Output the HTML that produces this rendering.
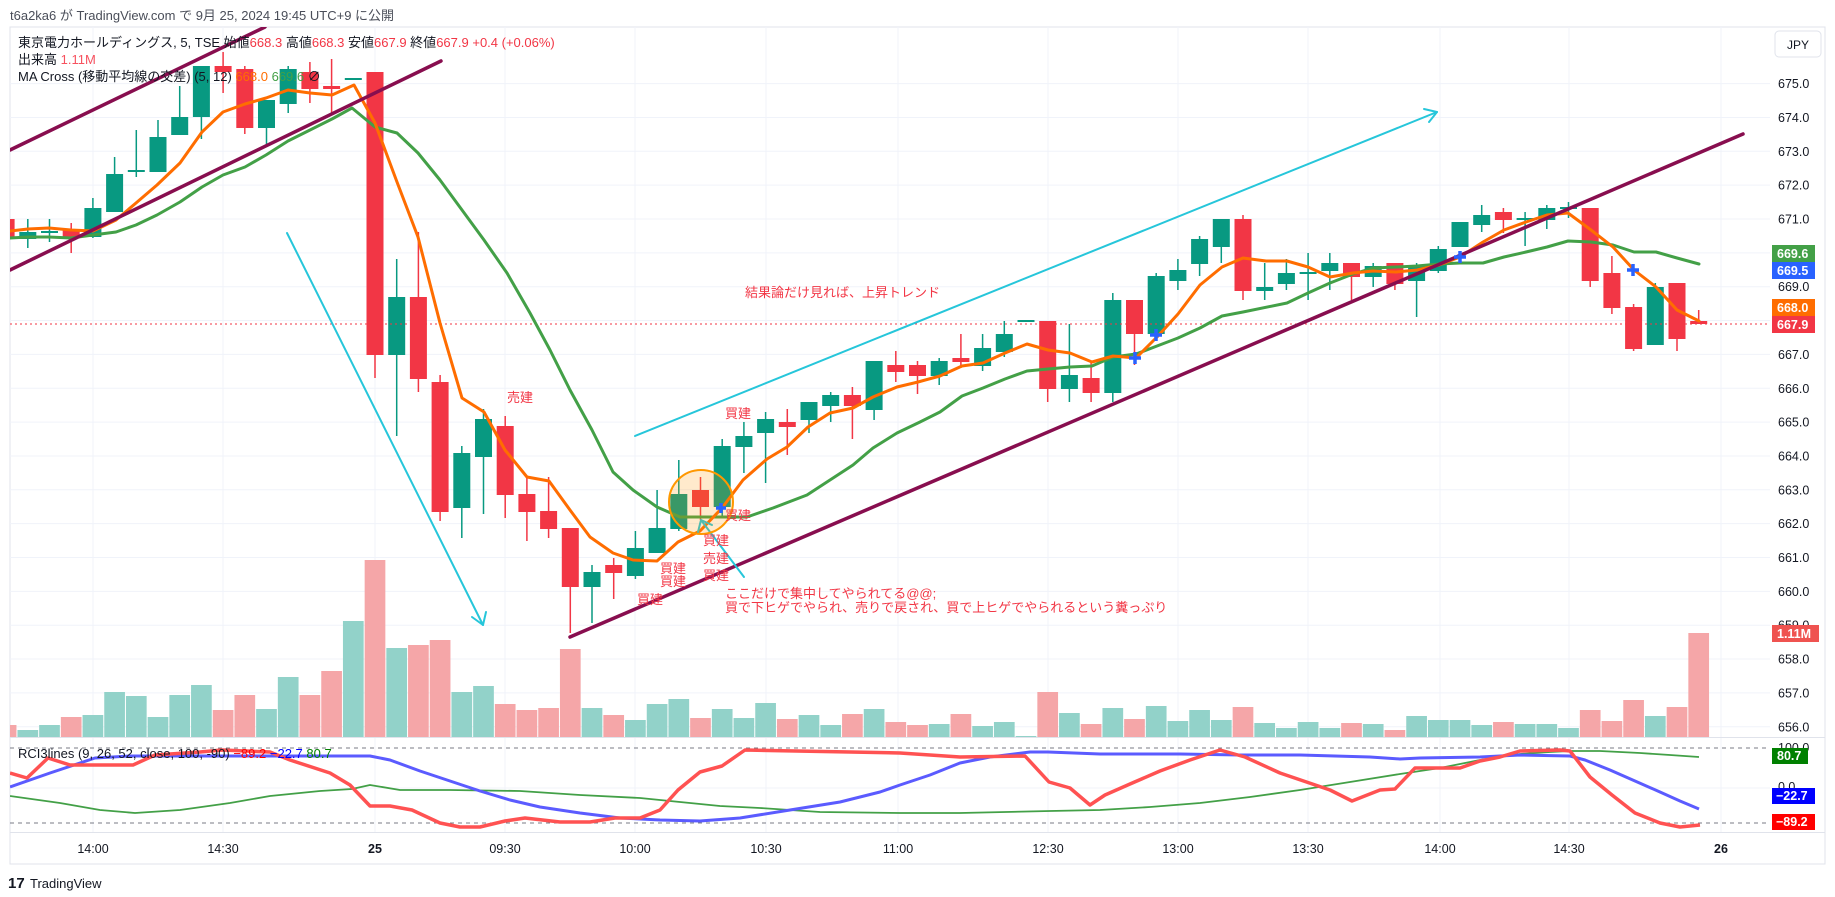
<!DOCTYPE html>
<html><head><meta charset="utf-8"><style>
html,body{margin:0;padding:0;background:#fff;}
svg{display:block;font-family:"Liberation Sans","Noto Sans CJK JP",sans-serif;}
</style></head><body>
<svg id="s" width="1835" height="897" viewBox="0 0 1835 897" xmlns="http://www.w3.org/2000/svg">
<rect width="1835" height="897" fill="#fff"/>
<!-- container border -->
<rect x="10" y="27" width="1815" height="837" fill="none" stroke="#e0e3eb" stroke-width="1"/>
<g id="grid" stroke="#f0f3fa" stroke-width="1"></g>
<!-- pane separators -->
<line x1="10" y1="737.5" x2="1825" y2="737.5" stroke="#e0e3eb"/>
<line x1="10" y1="832.5" x2="1825" y2="832.5" stroke="#e0e3eb"/>
<defs><clipPath id="cp"><rect x="10" y="27" width="1760" height="710"/></clipPath>
<clipPath id="cr"><rect x="10" y="738" width="1760" height="94"/></clipPath></defs>
<g id="vol" clip-path="url(#cp)"></g>
<g id="cdl" clip-path="url(#cp)"></g>
<line x1="10" y1="324" x2="1770" y2="324" stroke="#f23645" stroke-width="1" stroke-dasharray="2,3"/>
<g clip-path="url(#cp)" fill="none" stroke-linejoin="round" stroke-linecap="round">
<polyline stroke="#43a047" stroke-width="3" points="10,238 28,237 49,237 71,238 93,235 116,232 136,225 157,215 180,202 202,187 223,175 245,167 266,155 288,141 310,130 332,119 352,108 375,127 397,133 418,153 440,180 462,210 484,240 507,273 530,313 550,350 570,390 592,430 613,472 633,490 657,507 680,517 747,517 773,508 807,495 830,480 853,465 873,448 897,433 920,422 940,412 962,396 983,388 1005,379 1027,371 1048,369 1070,367 1092,366 1113,357 1136,354 1157,346 1178,338 1200,328 1222,316 1243,312 1287,303 1308,293 1330,283 1353,274 1373,268 1396,267 1417,266 1439,264 1460,263 1483,263 1504,257 1526,252 1547,247 1568,241 1591,242 1613,245 1634,252 1656,252 1677,258 1699,264"/>
<polyline stroke="#ff6d00" stroke-width="3" points="10,231 28,229 49,228 71,230 93,231 116,220 136,203 157,185 180,163 202,132 223,112 245,104 266,98 288,90 310,93 332,95 354,85 375,123 397,182 418,237 440,323 462,398 484,412 505,450 527,477 549,481 570,510 590,537 613,553 633,560 657,561 678,542 700,531 722,508 743,480 767,459 787,447 808,427 830,413 853,408 873,397 897,387 918,382 940,376 962,366 983,363 1005,353 1027,344 1048,350 1070,353 1092,362 1113,356 1136,358 1157,337 1178,314 1200,285 1222,267 1243,258 1266,261 1287,261 1308,267 1330,277 1353,273 1373,271 1396,272 1417,270 1439,265 1460,257 1483,242 1504,230 1526,222 1547,215 1568,213 1591,230 1613,247 1634,270 1656,287 1677,310 1699,321"/>
<!-- trend lines -->
<line x1="10" y1="150" x2="265" y2="27" stroke="#880e4f" stroke-width="3.5"/>
<line x1="10" y1="270" x2="441" y2="61" stroke="#880e4f" stroke-width="3.5"/>
<line x1="570" y1="637" x2="1743" y2="134" stroke="#880e4f" stroke-width="3.5"/>
<!-- cyan arrows -->
<line x1="287" y1="233" x2="483" y2="625" stroke="#26c6da" stroke-width="2"/>
<polyline points="472,617 483,625 486,612" stroke="#26c6da" stroke-width="2"/>
<line x1="635" y1="436" x2="1437" y2="112" stroke="#26c6da" stroke-width="2"/>
<polyline points="1424,109 1437,112 1429,122" stroke="#26c6da" stroke-width="2"/>
<line x1="701" y1="520" x2="744" y2="577" stroke="#26c6da" stroke-width="2"/>
<polyline points="698,532 701,520 712,525" stroke="#26c6da" stroke-width="2"/>
</g>
<circle cx="701" cy="502" r="32" fill="rgba(255,152,0,0.2)" stroke="#ff9800" stroke-width="2"/>
<!-- blue crosses -->
<g stroke="#2962ff" stroke-width="3.5">
<path d="M716 508h10M721 503v10"/>
<path d="M1129 358h12M1135 352v12"/>
<path d="M1150 335h12M1156 329v12"/>
<path d="M1454 257h12M1460 251v12"/>
<path d="M1627 270h12M1633 264v12"/>
</g>
<!-- annotations -->
<g fill="#f23645" font-size="13">
<text x="745" y="297">結果論だけ見れば、上昇トレンド</text>
<text x="507" y="402">売建</text>
<text x="725" y="418">買建</text>
<text x="725" y="520">買建</text>
<text x="703" y="545">買建</text>
<text x="703" y="563">売建</text>
<text x="703" y="580">買建</text>
<text x="660" y="573">買建</text>
<text x="660" y="586">買建</text>
<text x="637" y="604">買建</text>
<text x="725" y="598">ここだけで集中してやられてる@@;</text>
<text x="725" y="612">買で下ヒゲでやられ、売りで戻され、買で上ヒゲでやられるという糞っぷり</text>
</g>
<!-- RCI -->
<line x1="10" y1="748" x2="1770" y2="748" stroke="#787b86" stroke-dasharray="4,4"/>
<line x1="10" y1="823" x2="1770" y2="823" stroke="#787b86" stroke-dasharray="4,4"/>
<line x1="10" y1="788" x2="1770" y2="788" stroke="#f0f3fa"/>
<g clip-path="url(#cr)" fill="none" stroke-linejoin="round">
<polyline stroke="#43a047" stroke-width="1.8" points="10,796 60,803 100,810 135,813 180,810 230,803 270,796 320,791 352,789 370,785 400,790 450,790 520,791 580,795 640,798 680,802 720,806 760,808 820,812 900,813 960,813 1050,811 1100,810 1150,807 1200,803 1250,797 1300,790 1350,782 1400,774 1440,768 1480,760 1520,754 1550,752 1570,751 1600,751 1640,753 1670,755 1699,757"/>
<polyline stroke="#5b5bff" stroke-width="3" points="10,787 50,773 95,758 130,756 170,756 370,756 390,760 420,771 450,781 480,791 510,800 540,807 580,813 620,818 660,820 700,821 740,818 790,810 840,802 880,792 900,785 930,775 960,763 990,757 1030,752 1048,752 1100,754 1180,754 1240,755 1300,755 1370,757 1400,759 1420,758 1480,757 1520,755 1570,756 1585,760 1610,770 1635,781 1660,792 1680,801 1699,809"/>
<polyline stroke="#ff5252" stroke-width="3.5" points="10,773 27,778 48,758 70,765 133,765 155,755 200,752 222,750 270,752 290,760 330,773 350,785 370,806 390,806 412,810 440,823 460,827 480,827 505,821 525,818 560,822 590,822 615,818 640,818 660,810 678,790 700,772 722,766 745,750 850,752 900,753 960,757 1025,756 1049,782 1070,788 1090,805 1105,795 1130,784 1160,771 1190,760 1220,750 1245,757 1280,773 1330,790 1352,801 1380,790 1395,789 1415,768 1460,768 1480,761 1500,757 1520,751 1560,750 1570,751 1590,777 1612,795 1635,813 1660,823 1680,827 1700,825"/>
</g>
<text x="18" y="758" font-size="13" fill="#131722">RCI3lines (9, 26, 52, close, 100, -90) <tspan fill="#ff0000">−89.2</tspan> <tspan fill="#0000ff">−22.7</tspan> <tspan fill="#008000">80.7</tspan></text>
<!-- header -->
<text x="10" y="20" font-size="13" fill="#4a4e59">t6a2ka6 が TradingView.com で 9月 25, 2024 19:45 UTC+9 に公開</text>
<text x="18" y="47" font-size="13" fill="#131722">東京電力ホールディングス, 5, TSE  始値<tspan fill="#f23645">668.3</tspan> 高値<tspan fill="#f23645">668.3</tspan>  安値<tspan fill="#f23645">667.9</tspan>  終値<tspan fill="#f23645">667.9</tspan>  <tspan fill="#f23645">+0.4 (+0.06%)</tspan></text>
<text x="18" y="64" font-size="13" fill="#131722">出来高  <tspan fill="#f7525f">1.11M</tspan></text>
<text x="18" y="81" font-size="13" fill="#131722">MA Cross (移動平均線の交差) (5, 12)  <tspan fill="#ff6d00">668.0</tspan>  <tspan fill="#43a047">669.6</tspan>  ∅</text>
<!-- price axis -->
<rect x="1775" y="31" width="46" height="26" rx="4" fill="#fff" stroke="#e0e3eb"/>
<text x="1798" y="49" font-size="12" fill="#131722" text-anchor="middle">JPY</text>
<g id="pax" font-size="12.5" fill="#131722"></g>
<g font-size="12.5" font-weight="bold" fill="#fff">
<rect x="1772" y="245" width="43" height="17" fill="#43a047"/><text x="1777" y="258">669.6</text>
<rect x="1772" y="262" width="43" height="17" fill="#2962ff"/><text x="1777" y="275">669.5</text>
<rect x="1772" y="299" width="43" height="17" fill="#ff6d00"/><text x="1777" y="312">668.0</text>
<rect x="1772" y="316" width="43" height="17" fill="#f23645"/><text x="1777" y="329">667.9</text>
<rect x="1772" y="625" width="47" height="17" fill="#ef5350"/><text x="1777" y="638">1.11M</text>
</g>
<text x="1778" y="752" font-size="12.5" fill="#131722">100.0</text>
<text x="1778" y="791" font-size="12.5" fill="#131722">0.0</text>
<g font-size="12.5" font-weight="bold" fill="#fff">
<rect x="1772" y="748" width="36" height="16" fill="#008000"/><text x="1777" y="760">80.7</text>
<rect x="1772" y="788" width="43" height="16" fill="#0000ff"/><text x="1776" y="800">−22.7</text>
<rect x="1772" y="814" width="43" height="16" fill="#ff0000"/><text x="1776" y="826">−89.2</text>
</g>
<!-- time axis -->
<g font-size="12.5" fill="#131722" text-anchor="middle">
<text x="93" y="853">14:00</text><text x="223" y="853">14:30</text><text x="375" y="853" font-weight="bold">25</text>
<text x="505" y="853">09:30</text><text x="635" y="853">10:00</text><text x="766" y="853">10:30</text>
<text x="898" y="853">11:00</text><text x="1048" y="853">12:30</text><text x="1178" y="853">13:00</text>
<text x="1308" y="853">13:30</text><text x="1440" y="853">14:00</text><text x="1569" y="853">14:30</text>
<text x="1721" y="853" font-weight="bold">26</text>
</g>
<text x="8" y="888" font-size="15" font-weight="bold" fill="#131722">17</text>
<text x="30" y="888" font-size="13" fill="#131722">TradingView</text>
</svg>
<script>
(function(){
var NS="http://www.w3.org/2000/svg";
function el(p,n,a){var e=document.createElementNS(NS,n);for(var k in a)e.setAttribute(k,a[k]);p.appendChild(e);return e;}
var X=function(i){return 375+21.7*i;};
var Y=function(p){return 219+(671-p)*33.85;};
var g=document.getElementById('grid');
for(var p=656;p<=675;p++){el(g,'line',{x1:10,x2:1770,y1:Y(p),y2:Y(p)});}
[93,223,375,505,635,766,898,1048,1178,1308,1440,1569,1721].forEach(function(x){el(g,'line',{x1:x,x2:x,y1:27,y2:832});});
var pax=document.getElementById('pax');
for(var p=656;p<=675;p++){var t=el(pax,'text',{x:1778,y:Y(p)+4.5});t.textContent=p.toFixed(1);}
var C=[[-17,'r',219,237,219,237],[-16,'g',232,239,219,248],[-15,'g',232,232,219,242],[-14,'r',229,237,223,253],[-13,'g',208,237,198,238],[-12,'g',174,212,157,212],[-11,'g',171,171,130,177],[-10,'g',137,172,120,172],[-9,'g',117,135,86,135],[-8,'g',66,117,66,139],[-7,'r',66,72,52,93],[-6,'r',69,128,66,134],[-5,'g',100,128,100,147],[-4,'g',69,104,66,113],[-3,'r',72,89,62,103],[-2,'r',86,89,59,113],[-1,'g',79,79,79,79],[0,'r',72,355,72,378],[1,'g',297,355,259,436],[2,'r',297,379,232,392],[3,'r',382,512,375,521],[4,'g',453,508,446,538],[5,'g',419,457,409,514],[6,'r',426,495,416,518],[7,'r',494,512,477,541],[8,'r',511,529,477,538],[9,'r',528,587,528,633],[10,'g',572,587,565,623],[11,'r',565,573,558,599],[12,'g',548,576,531,579],[13,'g',528,553,490,553],[14,'g',494,529,460,531],[15,'r',490,507,477,520],[16,'g',446,507,439,517],[17,'g',436,447,422,473],[18,'g',419,433,412,483],[19,'r',422,427,409,455],[20,'g',402,420,402,433],[21,'g',395,406,392,422],[22,'r',395,406,387,439],[23,'g',361,410,361,420],[24,'r',365,372,351,382],[25,'r',365,376,361,394],[26,'g',361,376,358,385],[27,'r',358,362,334,368],[28,'g',348,366,334,371],[29,'g',334,352,321,357],[30,'g',321,321,321,321],[31,'r',321,389,321,402],[32,'g',375,389,324,402],[33,'r',378,393,361,402],[34,'g',300,393,293,402],[35,'r',300,334,300,365],[36,'g',276,334,273,334],[37,'g',270,281,259,290],[38,'g',239,264,236,276],[39,'g',219,247,219,263],[40,'r',219,291,215,300],[41,'g',287,291,263,300],[42,'g',273,284,259,290],[43,'g',273,273,253,300],[44,'g',263,271,253,290],[45,'r',263,277,263,300],[46,'g',266,277,263,287],[47,'r',263,284,263,290],[48,'g',266,281,263,317],[49,'g',249,271,246,273],[50,'g',222,247,222,247],[51,'g',215,225,205,232],[52,'r',212,220,208,233],[53,'g',219,219,212,246],[54,'g',208,220,205,229],[55,'g',208,208,202,218],[56,'r',208,281,208,287],[57,'r',273,308,256,314],[58,'r',307,349,304,351],[59,'g',287,345,283,345],[60,'r',283,339,283,351],[61,'r',321,324,310,324]];
var V=[725,730,725,717,715,692,696,717,695,685,710,695,709,677,695,671,621,560,648,645,640,692,686,704,710,708,649,708,715,720,704,699,718,709,718,703,719,715,725,714,709,722,725,724,714,726,722,736,692,713,724,708,719,706,721,710,720,707,723,728,722,728,723,724,730,716,720,720,725,722,724,724,728,710,721,700,716,707,633];
var cg=document.getElementById('cdl'),vg=document.getElementById('vol');
C.forEach(function(c,k){var x=X(c[0]);var col=c[1]=='g'?'#089981':'#f23645';
var vc=c[1]=='g'?'#92d2c9':'#f5a6a8';
el(vg,'rect',{x:x-10.35,y:V[k],width:20.7,height:737-V[k],fill:vc});
el(cg,'rect',{x:x-0.75,y:c[4],width:1.5,height:Math.max(1,c[5]-c[4]),fill:col});
var h=c[3]-c[2];if(h<2){el(cg,'rect',{x:x-8.5,y:c[2]-1,width:17,height:2,fill:col});}
else el(cg,'rect',{x:x-8.5,y:c[2],width:17,height:h,fill:col});});
})();
</script>
</body></html>
